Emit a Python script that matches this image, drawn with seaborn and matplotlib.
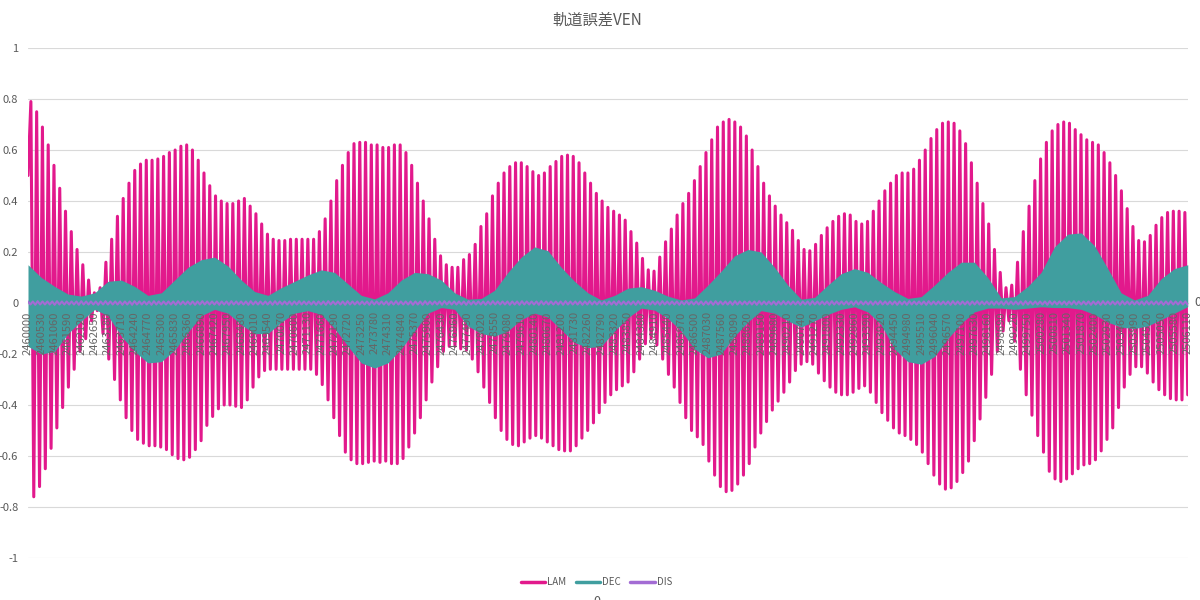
"""Orbit error chart (LAM / DEC / DIS) redrawn with seaborn."""

import numpy as np
import matplotlib
matplotlib.use("Agg")
import matplotlib.pyplot as plt
import seaborn as sns
from matplotlib.lines import Line2D
from matplotlib.ticker import FuncFormatter

TITLE = "軌道誤差VEN"
SERIES = ["LAM", "DEC", "DIS"]
COLORS = {"LAM": "#E2198C", "DEC": "#409E9F", "DIS": "#A36CD4"}
TEXT_COLOR = "#595959"

# category axis: Julian dates, labelled every 530 days
JD_START = 2460000
JD_END = 2506110
JD_TICK_STEP = 530
X_TICKS = list(range(JD_START, JD_END + 1, JD_TICK_STEP))
Y_TICKS = [-1, -0.8, -0.6, -0.4, -0.2, 0, 0.2, 0.4, 0.6, 0.8, 1]

# LAM: first value, then each crest and each trough
LAM_START = 0.5
LAM_PEAKS = [
    0.79, 0.75, 0.69, 0.62, 0.54, 0.45, 0.36, 0.28, 0.21, 0.15,
    0.09, 0.04, 0.06, 0.16, 0.25, 0.34, 0.41, 0.47, 0.52, 0.545,
    0.56, 0.56, 0.565, 0.575, 0.59, 0.60, 0.615, 0.62, 0.60, 0.56,
    0.51, 0.46, 0.42, 0.40, 0.39, 0.39, 0.40, 0.41, 0.38, 0.35,
    0.31, 0.27, 0.25, 0.245, 0.245, 0.25, 0.25, 0.25, 0.25, 0.25,
    0.28, 0.33, 0.40, 0.48, 0.54, 0.59, 0.625, 0.63, 0.63, 0.62,
    0.62, 0.61, 0.61, 0.62, 0.62, 0.59, 0.54, 0.47, 0.40, 0.33,
    0.25, 0.185, 0.15, 0.14, 0.14, 0.17, 0.19, 0.23, 0.30, 0.35,
    0.42, 0.47, 0.51, 0.535, 0.55, 0.55, 0.535, 0.515, 0.50, 0.51,
    0.535, 0.555, 0.575, 0.58, 0.575, 0.55, 0.51, 0.47, 0.43, 0.40,
    0.375, 0.36, 0.345, 0.325, 0.28, 0.235, 0.175, 0.13, 0.125, 0.18,
    0.24, 0.29, 0.345, 0.39, 0.43, 0.48, 0.535, 0.59, 0.64, 0.69,
    0.71, 0.72, 0.71, 0.69, 0.655, 0.60, 0.535, 0.47, 0.42, 0.38,
    0.345, 0.315, 0.285, 0.245, 0.21, 0.205, 0.23, 0.265, 0.295, 0.32,
    0.34, 0.35, 0.345, 0.32, 0.31, 0.32, 0.36, 0.40, 0.44, 0.47,
    0.50, 0.51, 0.51, 0.525, 0.56, 0.60, 0.645, 0.68, 0.705, 0.71,
    0.705, 0.675, 0.625, 0.55, 0.47, 0.39, 0.31, 0.21, 0.12, 0.06,
    0.07, 0.16, 0.28, 0.38, 0.48, 0.565, 0.63, 0.675, 0.70, 0.71,
    0.705, 0.68, 0.66, 0.64, 0.63, 0.62, 0.59, 0.55, 0.50, 0.44,
    0.37, 0.30, 0.245, 0.24, 0.265, 0.305, 0.335, 0.355, 0.36, 0.36,
    0.355,
]
LAM_TROUGHS = [
    -0.76, -0.72, -0.65, -0.57, -0.49, -0.41, -0.33, -0.26, -0.19, -0.14,
    -0.07, -0.03, -0.12, -0.22, -0.30, -0.38, -0.45, -0.50, -0.535, -0.55,
    -0.56, -0.56, -0.565, -0.575, -0.595, -0.61, -0.615, -0.605, -0.575, -0.54,
    -0.48, -0.445, -0.415, -0.40, -0.40, -0.405, -0.41, -0.38, -0.33, -0.29,
    -0.265, -0.26, -0.26, -0.26, -0.26, -0.26, -0.26, -0.26, -0.26, -0.28,
    -0.32, -0.38, -0.45, -0.52, -0.585, -0.615, -0.63, -0.63, -0.625, -0.62,
    -0.625, -0.62, -0.63, -0.63, -0.61, -0.565, -0.51, -0.45, -0.38, -0.31,
    -0.25, -0.19, -0.17, -0.17, -0.18, -0.185, -0.22, -0.27, -0.33, -0.39,
    -0.45, -0.50, -0.535, -0.555, -0.56, -0.545, -0.53, -0.52, -0.53, -0.545,
    -0.56, -0.575, -0.58, -0.58, -0.56, -0.53, -0.50, -0.47, -0.43, -0.39,
    -0.36, -0.34, -0.325, -0.31, -0.27, -0.22, -0.16, -0.14, -0.165, -0.22,
    -0.28, -0.33, -0.39, -0.45, -0.50, -0.525, -0.555, -0.62, -0.675, -0.72,
    -0.74, -0.735, -0.71, -0.675, -0.63, -0.565, -0.51, -0.465, -0.42, -0.385,
    -0.35, -0.31, -0.265, -0.24, -0.23, -0.24, -0.275, -0.305, -0.33, -0.35,
    -0.36, -0.36, -0.35, -0.335, -0.325, -0.35, -0.39, -0.43, -0.46, -0.49,
    -0.51, -0.52, -0.535, -0.555, -0.585, -0.63, -0.675, -0.71, -0.73, -0.725,
    -0.70, -0.665, -0.62, -0.54, -0.455, -0.37, -0.28, -0.19, -0.11, -0.07,
    -0.15, -0.26, -0.36, -0.44, -0.52, -0.585, -0.66, -0.69, -0.70, -0.69,
    -0.67, -0.65, -0.635, -0.63, -0.615, -0.58, -0.535, -0.49, -0.41, -0.33,
    -0.28, -0.25, -0.25, -0.275, -0.31, -0.34, -0.36, -0.375, -0.38, -0.38,
    -0.36,
]

# DEC oscillates too fast to resolve: upper / lower envelope of the band
DEC_UPPER = [
    0.15, 0.10, 0.065, 0.035, 0.027, 0.04, 0.085, 0.09, 0.065, 0.03,
    0.04, 0.09, 0.14, 0.17, 0.18, 0.145, 0.09, 0.045, 0.03, 0.06,
    0.085, 0.11, 0.13, 0.12, 0.075, 0.03, 0.016, 0.04, 0.09, 0.12,
    0.115, 0.09, 0.04, 0.015, 0.018, 0.05, 0.12, 0.18, 0.22, 0.205,
    0.14, 0.085, 0.04, 0.012, 0.03, 0.058, 0.064, 0.05, 0.027, 0.012,
    0.02, 0.07, 0.125, 0.185, 0.21, 0.20, 0.14, 0.07, 0.015, 0.022,
    0.07, 0.115, 0.135, 0.12, 0.08, 0.045, 0.018, 0.025, 0.07, 0.12,
    0.16, 0.16, 0.10, 0.02, 0.025, 0.065, 0.12, 0.22, 0.27, 0.275,
    0.225, 0.135, 0.04, 0.012, 0.03, 0.095, 0.135, 0.15,
]
DEC_LOWER = [
    -0.17, -0.20, -0.19, -0.12, -0.07, -0.025, -0.05, -0.13, -0.19, -0.235,
    -0.23, -0.185, -0.115, -0.05, -0.025, -0.04, -0.085, -0.12, -0.12, -0.075,
    -0.04, -0.03, -0.045, -0.10, -0.17, -0.235, -0.255, -0.235, -0.18, -0.11,
    -0.04, -0.018, -0.025, -0.09, -0.12, -0.13, -0.11, -0.065, -0.04, -0.055,
    -0.105, -0.155, -0.175, -0.17, -0.11, -0.058, -0.02, -0.028, -0.06, -0.11,
    -0.18, -0.215, -0.20, -0.13, -0.075, -0.03, -0.04, -0.07, -0.095, -0.07,
    -0.045, -0.025, -0.015, -0.035, -0.085, -0.18, -0.23, -0.24, -0.21, -0.14,
    -0.08, -0.035, -0.02, -0.02, -0.025, -0.02, -0.015, -0.018, -0.018, -0.025,
    -0.045, -0.075, -0.095, -0.10, -0.09, -0.065, -0.04, -0.014,
]

# DIS: tiny ripple around zero
DIS_PEAKS = [
    0.006, 0.006, 0.007, 0.006, 0.006, 0.006, 0.007, 0.006, 0.006, 0.006,
    0.006, 0.007, 0.006, 0.006, 0.006, 0.006, 0.007, 0.006, 0.006, 0.006,
    0.006, 0.006, 0.007, 0.006, 0.006, 0.006, 0.007, 0.006, 0.006, 0.006,
    0.006, 0.007, 0.006, 0.006, 0.006, 0.006, 0.007, 0.006, 0.006, 0.006,
    0.006, 0.006, 0.007, 0.006, 0.006, 0.006, 0.007, 0.006, 0.006, 0.006,
    0.006, 0.007, 0.006, 0.006, 0.006, 0.006, 0.007, 0.006, 0.006, 0.006,
    0.006, 0.006, 0.007, 0.006, 0.006, 0.006, 0.007, 0.006, 0.006, 0.006,
    0.006, 0.007, 0.006, 0.006, 0.006, 0.006, 0.007, 0.006, 0.006, 0.006,
    0.006, 0.006, 0.007, 0.006, 0.006, 0.006, 0.007, 0.006, 0.006, 0.006,
    0.006, 0.007, 0.006, 0.006, 0.006, 0.006, 0.007, 0.006, 0.006, 0.006,
    0.006, 0.006, 0.007, 0.006, 0.006, 0.006, 0.007, 0.006, 0.006, 0.006,
    0.006, 0.007, 0.006, 0.006, 0.006, 0.006, 0.007, 0.006, 0.006, 0.006,
    0.006, 0.006, 0.007, 0.006, 0.006, 0.006, 0.007, 0.006, 0.006, 0.006,
    0.006, 0.007, 0.006, 0.006, 0.006, 0.006, 0.007, 0.006, 0.006, 0.006,
    0.006, 0.006, 0.007, 0.006, 0.006, 0.006, 0.007, 0.006, 0.006, 0.006,
    0.006, 0.007, 0.006, 0.006, 0.006, 0.006, 0.007, 0.006, 0.006, 0.006,
    0.006, 0.006, 0.007, 0.006, 0.006, 0.006, 0.007, 0.006, 0.006, 0.006,
    0.006, 0.007, 0.006, 0.006, 0.006, 0.006, 0.007, 0.006, 0.006, 0.006,
    0.006, 0.006, 0.007, 0.006, 0.006, 0.006, 0.007, 0.006, 0.006, 0.006,
    0.006, 0.007, 0.006, 0.006, 0.006, 0.006, 0.007, 0.006, 0.006, 0.006,
    0.006, 0.006, 0.007, 0.006, 0.006, 0.006, 0.007, 0.006, 0.006, 0.006,
    0.006, 0.007, 0.006, 0.006, 0.006, 0.006, 0.007, 0.006, 0.006, 0.006,
    0.006, 0.006, 0.007, 0.006, 0.006, 0.006, 0.007, 0.006, 0.006, 0.006,
    0.006, 0.007, 0.006, 0.006, 0.006, 0.006, 0.007, 0.006, 0.006, 0.006,
]
DIS_TROUGHS = [
    -0.006, -0.007, -0.006, -0.006, -0.006, -0.007, -0.006, -0.006, -0.006, -0.006,
    -0.007, -0.006, -0.006, -0.006, -0.007, -0.006, -0.006, -0.006, -0.006, -0.007,
    -0.006, -0.007, -0.006, -0.006, -0.006, -0.007, -0.006, -0.006, -0.006, -0.006,
    -0.007, -0.006, -0.006, -0.006, -0.007, -0.006, -0.006, -0.006, -0.006, -0.007,
    -0.006, -0.007, -0.006, -0.006, -0.006, -0.007, -0.006, -0.006, -0.006, -0.006,
    -0.007, -0.006, -0.006, -0.006, -0.007, -0.006, -0.006, -0.006, -0.006, -0.007,
    -0.006, -0.007, -0.006, -0.006, -0.006, -0.007, -0.006, -0.006, -0.006, -0.006,
    -0.007, -0.006, -0.006, -0.006, -0.007, -0.006, -0.006, -0.006, -0.006, -0.007,
    -0.006, -0.007, -0.006, -0.006, -0.006, -0.007, -0.006, -0.006, -0.006, -0.006,
    -0.007, -0.006, -0.006, -0.006, -0.007, -0.006, -0.006, -0.006, -0.006, -0.007,
    -0.006, -0.007, -0.006, -0.006, -0.006, -0.007, -0.006, -0.006, -0.006, -0.006,
    -0.007, -0.006, -0.006, -0.006, -0.007, -0.006, -0.006, -0.006, -0.006, -0.007,
    -0.006, -0.007, -0.006, -0.006, -0.006, -0.007, -0.006, -0.006, -0.006, -0.006,
    -0.007, -0.006, -0.006, -0.006, -0.007, -0.006, -0.006, -0.006, -0.006, -0.007,
    -0.006, -0.007, -0.006, -0.006, -0.006, -0.007, -0.006, -0.006, -0.006, -0.006,
    -0.007, -0.006, -0.006, -0.006, -0.007, -0.006, -0.006, -0.006, -0.006, -0.007,
    -0.006, -0.007, -0.006, -0.006, -0.006, -0.007, -0.006, -0.006, -0.006, -0.006,
    -0.007, -0.006, -0.006, -0.006, -0.007, -0.006, -0.006, -0.006, -0.006, -0.007,
    -0.006, -0.007, -0.006, -0.006, -0.006, -0.007, -0.006, -0.006, -0.006, -0.006,
    -0.007, -0.006, -0.006, -0.006, -0.007, -0.006, -0.006, -0.006, -0.006, -0.007,
    -0.006, -0.007, -0.006, -0.006, -0.006, -0.007, -0.006, -0.006, -0.006, -0.006,
    -0.007, -0.006, -0.006, -0.006, -0.007, -0.006, -0.006, -0.006, -0.006, -0.007,
    -0.006, -0.007, -0.006, -0.006, -0.006, -0.007, -0.006, -0.006, -0.006, -0.006,
    -0.007, -0.006, -0.006, -0.006, -0.007, -0.006, -0.006, -0.006, -0.006, -0.007,
]


def interleave(first, second):
    """Crest, trough, crest, trough ..."""
    return [v for pair in zip(first, second) for v in pair]


lam = [LAM_START] + interleave(LAM_PEAKS, LAM_TROUGHS)
dis = interleave(DIS_PEAKS, DIS_TROUGHS)
lam_x = np.linspace(JD_START, JD_END, len(lam))
dec_x = np.linspace(JD_START, JD_END, len(DEC_UPPER))
dis_x = np.linspace(JD_START, JD_END, len(dis))

sns.set_style("white")
plt.rcParams["font.family"] = ["Noto Sans CJK JP", "DejaVu Sans"]

fig = plt.figure(figsize=(12, 6), dpi=100)
ax = fig.add_axes([28 / 1200, 42 / 600, 1160 / 1200, 510 / 600])

sns.lineplot(x=lam_x, y=lam, color=COLORS["LAM"], linewidth=2.2,
             solid_joinstyle="round", solid_capstyle="round",
             sort=False, estimator=None, ax=ax, zorder=2)
ax.fill_between(dec_x, DEC_LOWER, DEC_UPPER, color=COLORS["DEC"],
                linewidth=0, zorder=3)
sns.lineplot(x=dis_x, y=dis, color=COLORS["DIS"], linewidth=1.5,
             sort=False, estimator=None, ax=ax, zorder=4)

ax.set_xlim(JD_START, JD_END + 10)
ax.set_ylim(-1, 1)
ax.set_yticks(Y_TICKS)
ax.yaxis.set_major_formatter(FuncFormatter(lambda v, p: f"{v:g}"))
ax.set_xticks(X_TICKS)
ax.set_xticklabels([str(t) for t in X_TICKS])
ax.tick_params(axis="x", length=0, pad=6, labelsize=8, labelcolor="#666666",
               labelrotation=90)
ax.tick_params(axis="y", length=0, pad=7, labelsize=8, labelcolor=TEXT_COLOR)
ax.grid(axis="y", color="#D9D9D9", linewidth=0.8)
ax.grid(axis="x", visible=False)
for side in ["top", "right", "left"]:
    ax.spines[side].set_visible(False)
ax.spines["bottom"].set_position(("data", 0))
ax.spines["bottom"].set_color("#D9D9D9")
ax.xaxis.set_zorder(5)  # date labels sit on top of the series, like Excel
ax.set_xlabel("")
ax.set_ylabel("")

fig.text(0.4975, 0.966, TITLE, ha="center", va="center",
         fontsize=11, color=TEXT_COLOR)

handles = [Line2D([0], [0], color=COLORS[s], linewidth=2.5) for s in SERIES]
fig.legend(handles, SERIES, loc="center", bbox_to_anchor=(0.497, 0.03),
           ncol=3, frameon=False, fontsize=7, handlelength=2.5,
           handletextpad=0.2, columnspacing=1.0, labelcolor=TEXT_COLOR)

# axis titles that Excel pushed off the canvas edge
fig.text(0.9955, 1 - 302 / 600, "0", ha="left", va="center",
         fontsize=9, color=TEXT_COLOR)
fig.text(0.497, 0.009, "0", ha="center", va="top",
         fontsize=9, color=TEXT_COLOR)

fig.savefig("out.png", dpi=100)
